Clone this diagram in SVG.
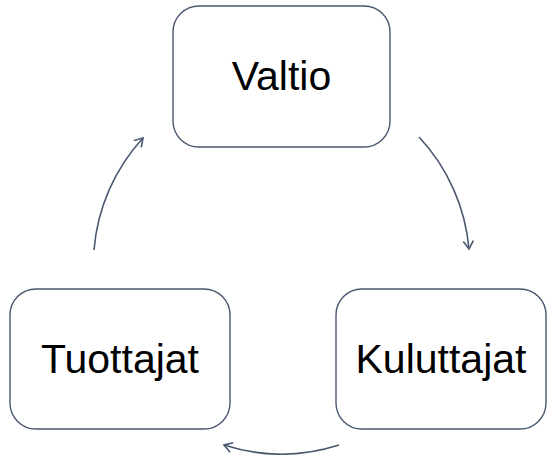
<svg xmlns="http://www.w3.org/2000/svg" width="547" height="455" viewBox="0 0 547 455">
<style>
.box{fill:#fff;stroke:#4a5870;stroke-width:1.4}
.lbl{font-family:"Liberation Sans",Arial,sans-serif;font-size:41px;fill:#000;text-anchor:middle}
.arc{fill:none;stroke:#4a5870;stroke-width:1.6;marker-end:url(#ah)}
</style>
<defs>
<marker id="ah" viewBox="0 0 12 12" refX="10" refY="6" markerWidth="12" markerHeight="12" markerUnits="userSpaceOnUse" orient="auto">
<path d="M2,1 L10,6 L2,11" fill="none" stroke="#4a5870" stroke-width="1.6"/>
</marker>
</defs>
<rect width="547" height="455" fill="#fff"/>
<g id="valtio">
<rect class="box" x="173" y="6" width="217" height="141" rx="26"/>
<text class="lbl" x="281.5" y="90">Valtio</text>
</g>
<g id="tuottajat">
<rect class="box" x="10" y="289" width="220" height="140" rx="26"/>
<text class="lbl" x="120" y="373">Tuottajat</text>
</g>
<g id="kuluttajat">
<rect class="box" x="336" y="289" width="210" height="140" rx="26"/>
<text class="lbl" x="441" y="373">Kuluttajat</text>
</g>
<g id="connectors">
<path class="arc" d="M419,137 A188,188 0 0 1 469,249"/>
<path class="arc" d="M339,445 A188,188 0 0 1 224,445"/>
<path class="arc" d="M94,250 A188,188 0 0 1 143,138"/>
</g>
</svg>
